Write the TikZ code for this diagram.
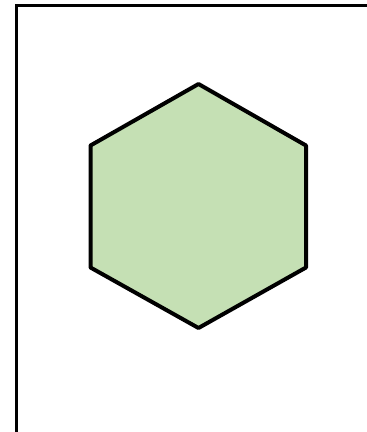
\documentclass[tikz,border=0pt]{standalone}
\definecolor{hexfill}{HTML}{C5E0B4}
\tikzset{frameline/.style={draw=black,line width=2.5pt},
hexshape/.style={draw=black,fill=hexfill,line width=4pt,line join=round}}
\begin{document}
\begin{tikzpicture}[x=1pt,y=-1pt]
\useasboundingbox (0,0) rectangle (367,432);
\clip (0,0) rectangle (367,432);
\draw[frameline] (16.5,440) -- (16.5,5.5) -- (380,5.5);
\draw[hexshape] (198.5,84) -- (306,145.5) -- (306,267.5) -- (198.5,328) -- (90.5,267.5) -- (90.5,145.5) -- cycle;
\coordinate (c) at (198.5,206);
\end{tikzpicture}
\end{document}
